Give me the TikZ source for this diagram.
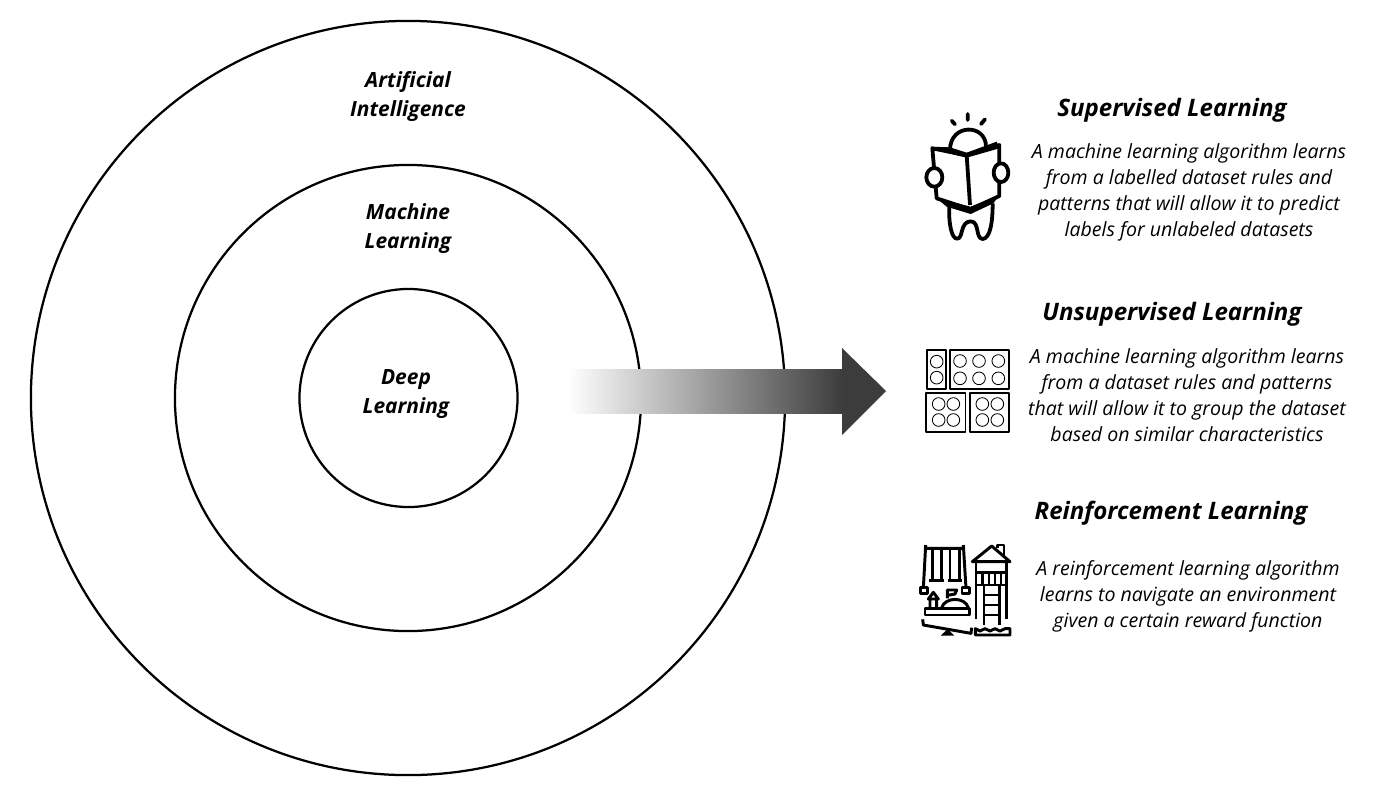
\documentclass[tikz,border=0pt]{standalone}
\usepackage{xcolor}
\usepackage{fontspec}
\setmainfont{Open Sans}
\definecolor{arrowdark}{HTML}{3C3C3C}
\tikzset{
  ring/.style={draw,circle,line width=1.6pt,inner sep=0pt},
  ringlabel/.style={align=center,font=\fontsize{14.9}{20.6}\selectfont\bfseries\itshape},
  heading/.style={font=\fontsize{17.1}{20}\selectfont\bfseries\itshape},
  body/.style={align=center,font=\fontsize{13.9}{18.4}\selectfont\itshape},
  icon/.style={x=0.008333cm,y=-0.008333cm,line join=round},
}
\begin{document}
\begin{tikzpicture}[x=0.025cm,y=-0.025cm]
  \useasboundingbox (0,0) rectangle (1400,798);

  % Circles
  \node[ring,minimum size=18.85cm] (outer) at (408,398) {};
  \node[ring,minimum size=11.65cm] (middle) at (408,398) {};
  \node[ring,minimum size=5.45cm] (inner) at (408.5,398) {};
  \node[ringlabel] (ai) at (408,96.5) {Artificial\\Intelligence};
  \node[ringlabel] (ml) at (408,228.5) {Machine\\Learning};
  \node[ringlabel] (dl) at (406,394.5) {Deep\\Learning};

  % Arrow
  \shade[left color=white,right color=arrowdark] (568,369) rectangle (843,413);
  \fill[arrowdark] (842,369) -- (842,348) -- (886,391) -- (842,435) -- (842,413) -- cycle;

  % Headings
  \node[heading] (sup) at (1172,110) {Supervised Learning};
  \node[heading] (unsup) at (1172,314) {Unsupervised Learning};
  \node[heading] (rein) at (1171,513) {Reinforcement Learning};

  % Descriptions
  \node[body] (suptext) at (1189,192.5) {A machine learning algorithm learns\\from a labelled dataset rules and\\patterns that will allow it to predict\\labels for unlabeled datasets};
  \node[body] (unsuptext) at (1187,395) {A machine learning algorithm learns\\from a dataset rules and patterns\\that will allow it to group the dataset\\based on similar characteristics};
  \node[body] (reintext) at (1188,596) {A reinforcement learning algorithm\\learns to navigate an environment\\given a certain reward function};

  % Reader
  \begin{scope}[shift={(900,90)},icon,line width=2.7pt]
    \draw[line cap=round] (155,92) -- (165,103) (203,72) -- (203,90) (255,88) -- (243,102);
    \draw (150,180) .. controls (150,100) and (258,100) .. (258,170);
    \draw[fill=white] (97,175) -- (110,325) -- (212,358) -- (298,318) -- (298,165) -- (200,195) -- cycle;
    \draw (200,195) -- (210,345);
    \fill (92,170) -- (150,172) -- (200,188) -- (290,155) -- (298,175) -- (200,203) -- (100,180) -- cycle;
    \fill (110,325) -- (212,350) -- (298,315) -- (280,340) -- (212,372) -- (140,350) -- cycle;
    \draw[fill=white] (103,262) ellipse (24 and 28);
    \draw[fill=white] (303,248) ellipse (22 and 28);
    \draw (148,345) .. controls (145,400) and (155,448) .. (172,446)
      .. controls (190,445) and (180,395) .. (212,394)
      .. controls (240,395) and (225,445) .. (248,447)
      .. controls (270,445) and (278,400) .. (278,340);
  \end{scope}

  % Groups
  \begin{scope}[shift={(900,330)},icon]
    \draw[line width=1.4pt] (80,60) rectangle (138,178);
    \draw[line width=1.4pt] (150,60) rectangle (327,178);
    \draw[line width=1.2pt] (78,188) rectangle (196,305);
    \draw[line width=1.2pt] (210,188) rectangle (327,305);
    \foreach \y in {95,143} \draw[line width=.6pt] (110,\y) circle (19);
    \foreach \x in {180,237,295} \foreach \y in {93,145} \draw[line width=.6pt] (\x,\y) circle (19);
    \foreach \x in {116,160,247,292} \foreach \y in {222,270} \draw[line width=.6pt] (\x,\y) circle (19);
  \end{scope}

  % Playground
  \begin{scope}[shift={(900,530)},icon,line width=2.1pt]
    \draw (75,55) -- (195,55) (77,45) -- (70,175) (190,45) -- (198,175);
    \draw (61,173) rectangle (83,190) (186,173) rectangle (208,190);
    \draw (97,58) -- (97,150) (125,58) -- (125,150) (88,152) -- (132,152);
    \draw (150,58) -- (150,150) (178,58) -- (178,150) (143,152) -- (187,152);
    \draw (75,235) rectangle (208,255);
    \draw (85,207) -- (100,187) -- (115,207) -- cycle (90,207) -- (90,235) (110,207) -- (110,235);
    \draw (125,233) .. controls (135,200) and (195,200) .. (205,233);
    \draw (142,205) -- (142,180) -- (170,180) -- (165,192) -- (142,196);
    \draw (68,268) -- (70,285) -- (213,310) -- (215,293);
    \fill (122,317) -- (143,297) -- (163,317) -- cycle;
    \draw (217,95) -- (275,48) -- (330,95) -- cycle;
    \draw (292,55) -- (292,45) -- (312,45) -- (312,75);
    \draw (228,95) -- (228,268) (320,95) -- (320,268);
    \draw (228,128) -- (320,128) (228,165) -- (320,165);
    \foreach \x in {248,267,285,303} \draw (\x,130) -- (\x,165);
    \draw (252,165) -- (252,285) (298,165) -- (298,285);
    \foreach \y in {195,225,255} \draw (252,\y) -- (298,\y);
    \draw (226,296) -- (240,303) -- (255,296) -- (270,303) -- (285,296) -- (300,303) -- (315,296) -- (330,296) -- (330,315) -- (226,315) -- cycle;
  \end{scope}
\end{tikzpicture}
\end{document}
